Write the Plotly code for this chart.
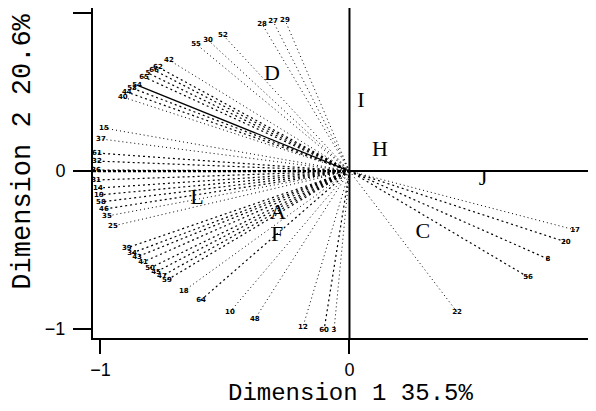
import plotly.graph_objects as go

# ---- data ----
point_labels = ["29", "27", "28", "52", "30", "55", "42", "62", "66", "5", "65", "54", "53", "44", "40",
                "15", "37", "61", "32", "36", "31", "14", "19", "58", "46", "35", "25",
                "39", "34", "43", "41", "50", "45", "47", "59", "18", "64", "10", "48", "12", "60", "3",
                "17", "20", "8", "56", "22"]
point_x = [-0.259, -0.307, -0.351, -0.508, -0.568, -0.616, -0.725, -0.769, -0.785, -0.809, -0.825, -0.853, -0.873, -0.894, -0.910,
           -0.986, -0.998, -1.014, -1.014, -1.018, -1.018, -1.010, -1.006, -0.998, -0.986, -0.974, -0.950,
           -0.894, -0.873, -0.853, -0.829, -0.801, -0.777, -0.753, -0.733, -0.665, -0.596, -0.480, -0.380, -0.187, -0.102, -0.062,
           0.906, 0.869, 0.797, 0.717, 0.432]
point_y = [0.956, 0.949, 0.930, 0.861, 0.829, 0.804, 0.703, 0.658, 0.639, 0.620, 0.595, 0.544, 0.525, 0.500, 0.468,
           0.272, 0.203, 0.114, 0.063, 0.006, -0.057, -0.108, -0.152, -0.196, -0.241, -0.285, -0.348,
           -0.487, -0.519, -0.544, -0.576, -0.614, -0.639, -0.665, -0.690, -0.759, -0.816, -0.892, -0.937, -0.987, -1.006, -1.006,
           -0.373, -0.449, -0.557, -0.671, -0.892]

letter_labels = ["D", "I", "H", "J", "L", "A", "F", "C"]
letter_x = [-0.311, 0.046, 0.122, 0.536, -0.612, -0.287, -0.291, 0.295]
letter_y = [0.614, 0.443, 0.127, -0.051, -0.177, -0.266, -0.405, -0.386]

tick_vals = [-1, 0, 1]
tick_text = ["\u22121", "0", "1"]

x_title = "Dimension 1 35.5%"
y_title = "Dimension 2 20.6%"

# ---- styles ----
heavy = {"36", "31", "14", "19", "58", "46", "39", "34", "43", "41", "50", "45", "47", "59", "64", "60", "56", "8", "20",
         "62", "66", "5", "65", "53", "44", "61", "32"}
solid = {"54"}

fig = go.Figure()

groups = {"light": ([], []), "heavy": ([], []), "solid": ([], [])}
for lab, px, py in zip(point_labels, point_x, point_y):
    g = "solid" if lab in solid else ("heavy" if lab in heavy else "light")
    groups[g][0].extend([0, px, None])
    groups[g][1].extend([0, py, None])

fig.add_trace(go.Scatter(x=groups["light"][0], y=groups["light"][1], mode="lines",
                         line=dict(color="black", width=1, dash="1px,3px"), hoverinfo="skip"))
fig.add_trace(go.Scatter(x=groups["heavy"][0], y=groups["heavy"][1], mode="lines",
                         line=dict(color="black", width=1.2, dash="2px,3px"), hoverinfo="skip"))
fig.add_trace(go.Scatter(x=groups["solid"][0], y=groups["solid"][1],
                         mode="lines", line=dict(color="black", width=1.3), hoverinfo="skip"))

# point labels
fig.add_trace(go.Scatter(x=point_x, y=point_y, mode="text", text=point_labels,
                         textposition="middle center",
                         textfont=dict(family="DejaVu Sans", size=7, color="black", weight="bold"),
                         hoverinfo="skip"))

# letter labels
fig.add_trace(go.Scatter(x=letter_x, y=letter_y, mode="text", text=letter_labels,
                         textposition="middle center",
                         textfont=dict(family="Liberation Serif", size=22, color="black"),
                         hoverinfo="skip"))

# axes cross lines
fig.add_shape(type="line", xref="x", yref="paper", x0=0, x1=0, y0=0, y1=1,
              line=dict(color="black", width=2))
fig.add_shape(type="line", xref="x", yref="y", x0=0, x1=1.2, y0=0, y1=0,
              line=dict(color="black", width=2))
fig.add_shape(type="line", xref="x", yref="y", x0=-1.03, x1=0, y0=0, y1=0,
              line=dict(color="black", width=2.2, dash="3px,2px"))

fig.update_layout(
    width=596, height=411,
    margin=dict(l=85, r=8, t=0, b=81, autoexpand=False),
    plot_bgcolor="white", paper_bgcolor="white",
    showlegend=False,
    xaxis=dict(range=[-1.030, 0.99], tickvals=tick_vals, ticktext=tick_text, automargin=False,
               showgrid=False, zeroline=False, showline=True, linecolor="black", linewidth=2,
               mirror=True, ticks="outside", ticklen=14, tickwidth=2, tickcolor="black",
               tickfont=dict(family="Liberation Sans", size=18, color="black")),
    yaxis=dict(range=[-1.057, 1.032], tickvals=tick_vals, ticktext=tick_text, automargin=False,
               showgrid=False, zeroline=False, showline=True, linecolor="black", linewidth=2,
               ticks="outside", ticklen=18, tickwidth=2, tickcolor="black",
               tickfont=dict(family="Liberation Sans", size=18, color="black"),
               ticklabelstandoff=4),
    annotations=[
        dict(text=x_title, xref="paper", yref="paper", x=0.511, y=-0.167,
             xanchor="center", yanchor="middle", showarrow=False,
             font=dict(family="Liberation Mono", size=24, color="black")),
        dict(text=y_title, xref="paper", yref="paper", x=-0.141, y=0.565,
             xanchor="center", yanchor="middle", showarrow=False, textangle=-90,
             font=dict(family="Liberation Mono", size=27, color="black")),
    ],
)

fig.write_html("out.html")
